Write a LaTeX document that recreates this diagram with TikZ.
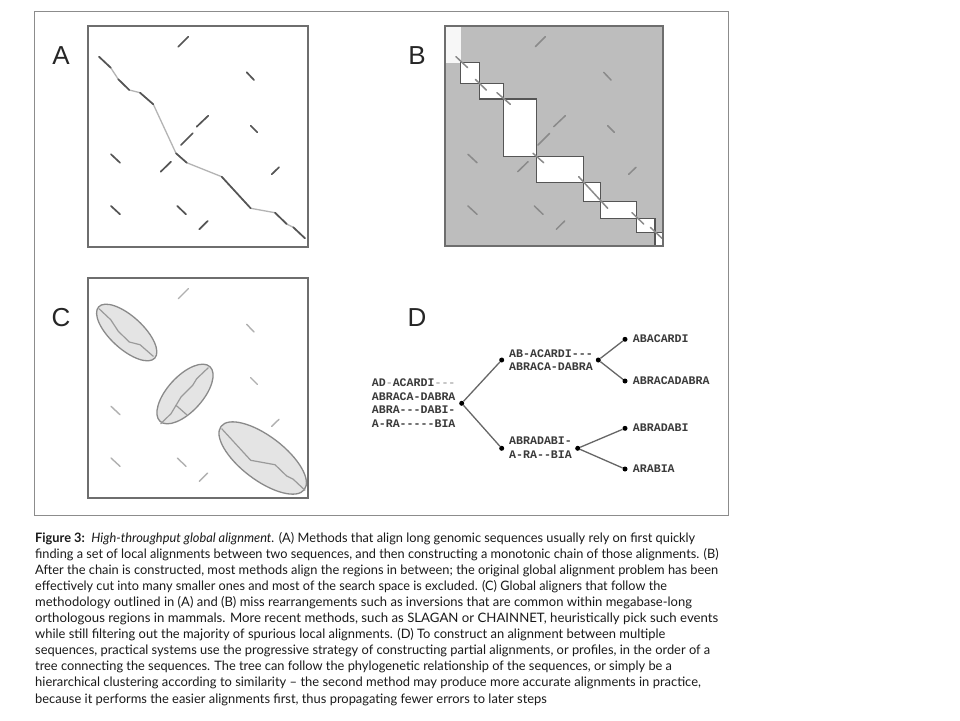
\documentclass[tikz,border=0pt]{standalone}
\usepackage{fontspec}
\setmainfont{Lato}
\setsansfont{Liberation Sans}
\setmonofont{Liberation Mono}
\usepackage{graphicx}
\definecolor{framec}{HTML}{8C8C8C}
\definecolor{boxc}{HTML}{6E6E6E}
\definecolor{segdark}{HTML}{555555}
\definecolor{seglight}{HTML}{B4B4B4}
\definecolor{bgray}{HTML}{BDBDBD}
\definecolor{bseg}{HTML}{8A8A8A}
\definecolor{cseg}{HTML}{B0B0B0}
\definecolor{cin}{HTML}{9A9A9A}
\definecolor{ellfill}{HTML}{E4E4E4}
\definecolor{elldraw}{HTML}{8A8A8A}
\definecolor{seqtext}{HTML}{3A3A3A}
\definecolor{faint}{HTML}{B0B0B0}
\definecolor{capc}{HTML}{1A1A1A}
\newcommand\FreeMain[1]{%
  \foreach \p/\q in {{178.3,46.7}/{188.3,36.7},{246.7,72.3}/{254,80},{250.7,125.7}/{257.3,132.3},{111,154.3}/{120,162.7},{271.7,174.3}/{279,167.3},{111,206}/{120,214.3},{177.3,206}/{186,214.3},{199.3,229.3}/{207.7,221}}{\draw[#1] (\p) -- (\q);}}
\newcommand\FreeInv[1]{%
  \foreach \p/\q in {{196.7,126.7}/{208.3,115.7},{181,145}/{192.7,133.3},{160.7,171.7}/{171,161.7}}{\draw[#1] (\p) -- (\q);}}
\newcommand\ChainDark[1]{%
  \foreach \p/\q in {{99,56.7}/{110.7,67.7},{118.3,79.3}/{129.3,90},{140,92.7}/{153.3,104.3},{176,153.3}/{186.7,162.7},{221.7,176.7}/{250.7,208.3},{275,212.7}/{286.7,224},{293.3,227.3}/{305,238.3}}{\draw[#1] (\p) -- (\q);}}
\newcommand\capl[4]{\node[capt] (#1) at (35,#2) {\resizebox{#3pt}{\height}{#4}};}
\tikzset{
  panelbox/.style={draw=boxc, line width=1.6pt},
  dseg/.style={draw=segdark, line width=1.7pt, line cap=round},
  lchain/.style={draw=seglight, line width=1.3pt, line join=round},
  bsegs/.style={draw=bseg, line width=1.5pt, line cap=round},
  csegs/.style={draw=cseg, line width=1.4pt, line cap=round},
  cinside/.style={draw=cin, line width=1.2pt, line join=round, line cap=round},
  ellip/.style={fill=ellfill, draw=elldraw, line width=1.3pt},
  wbox/.style={fill=white, draw=segdark, line width=1.2pt},
  plab/.style={font=\sffamily\fontsize{26}{30}\selectfont, text=black!85, inner sep=0pt},
  seq/.style={font=\ttfamily\bfseries\fontsize{11.6}{13}\selectfont, text=seqtext, anchor=west, inner sep=0pt, text height=6.5pt, text depth=0pt},
  dot/.style={circle, fill=black, inner sep=0pt, minimum size=5pt},
  edge/.style={draw=black!60, line width=1.3pt},
  capt/.style={anchor=base west, inner sep=0pt, text=capc, font=\fontsize{13}{15}\selectfont},
}
\begin{document}
\begin{tikzpicture}[x=1pt,y=-1pt]
\useasboundingbox (0,0) rectangle (960,720);
\fill[white] (0,0) rectangle (960,720);
% outer frame
\draw[framec, line width=1pt] (34,11) rectangle (728,515);
% labels
\node[plab] (labA) at (61,56) {A};
\node[plab] (labB) at (417,56) {B};
\node[plab] (labC) at (61,318) {C};
\node[plab] (labD) at (417,318) {D};
% ---------- Panel A
\fill[white] (88,26) rectangle (308,247);
\draw[lchain] (99,56.7) -- (110.7,67.7) -- (118.3,79.3) -- (129.3,90) -- (140,92.7) -- (153.3,104.3) -- (176,153.3) -- (186.7,162.7) -- (221.7,176.7) -- (250.7,208.3) -- (275,212.7) -- (286.7,224) -- (293.3,227.3) -- (305,238.3);
\ChainDark{dseg}
\FreeMain{dseg}
\FreeInv{dseg}
\draw[panelbox] (88,26) rectangle (308,247);
% ---------- Panel B
\fill[bgray] (445,26) rectangle (663,246);
\fill[white!97!black] (445,26) rectangle (460.7,62.7);
\draw[wbox] (460.7,62.7) rectangle (479.3,83.3);
\draw[wbox] (479.3,83.3) rectangle (503.3,99);
\draw[wbox] (503.3,99) rectangle (536.7,156.7);
\draw[wbox] (536.7,156.7) rectangle (583.3,182.3);
\draw[wbox] (583.3,182.3) rectangle (600.3,201.7);
\draw[wbox] (600.3,201.7) rectangle (636.7,218.3);
\draw[wbox] (636.7,218.3) rectangle (655,232.7);
\draw[wbox] (655,232.7) rectangle (663,246);
\begin{scope}[xshift=357pt]
\ChainDark{bsegs}
\FreeMain{bsegs}
\FreeInv{bsegs}
\end{scope}
\draw[panelbox] (445,26) rectangle (663,246);
% ---------- Panel C
\fill[white] (88,278) rectangle (308,498);
\draw[ellip, rotate around={-42.4:(126.7,332.5)}] (126.7,332.5) ellipse [x radius=38pt, y radius=16.3pt];
\draw[ellip, rotate around={47.7:(185,394)}] (185,394) ellipse [x radius=37pt, y radius=17.6pt];
\draw[ellip, rotate around={-37.2:(262.7,458)}] (262.7,458) ellipse [x radius=52.3pt, y radius=22pt];
\begin{scope}[yshift=-252pt]
\FreeMain{csegs}
\draw[cinside] (99,56.7) -- (110.7,67.7) -- (118.3,79.3) -- (129.3,90) -- (140,92.7) -- (153.3,104.3);
\draw[cinside] (160.7,171.7) -- (171,161.7) -- (181,145) -- (192.7,133.3) -- (196.7,126.7) -- (208.3,115.7);
\draw[cinside] (176,153.3) -- (186.7,162.7);
\draw[cinside] (221.7,176.7) -- (250.7,208.3) -- (275,212.7) -- (286.7,224) -- (293.3,227.3) -- (305,238.3);
\end{scope}
\draw[panelbox] (88,278) rectangle (308,498);
% ---------- Panel D
\node[dot] (root) at (461.7,403.3) {};
\node[dot] (up) at (501.7,360) {};
\node[dot] (upn) at (598.3,360) {};
\node[dot] (lo) at (501.7,448.3) {};
\node[dot] (lon) at (577.7,448.3) {};
\node[dot] (l1) at (625,339.3) {};
\node[dot] (l2) at (625,381) {};
\node[dot] (l3) at (625,428.3) {};
\node[dot] (l4) at (625,469) {};
\draw[edge] (root) -- (up);
\draw[edge] (root) -- (lo);
\draw[edge] (upn) -- (l1);
\draw[edge] (upn) -- (l2);
\draw[edge] (lon) -- (l3);
\draw[edge] (lon) -- (l4);
\node[seq] (r1) at (371.7,383.3) {AD{\color{faint}-}ACARDI{\color{faint}---}};
\node[seq] (r2) at (371.7,397.3) {ABRACA-DABRA};
\node[seq] (r3) at (371.7,410.7) {ABRA---DABI-};
\node[seq] (r4) at (371.7,424) {A-RA-----BIA};
\node[seq] (u1) at (509,354.3) {AB-ACARDI---};
\node[seq] (u2) at (509,367.7) {ABRACA-DABRA};
\node[seq] (d1) at (509,441.7) {ABRADABI-};
\node[seq] (d2) at (509,455) {A-RA--BIA};
\node[seq] (t1) at (632.7,339.3) {ABACARDI};
\node[seq] (t2) at (632.7,381) {ABRACADABRA};
\node[seq] (t3) at (632.7,428.3) {ABRADABI};
\node[seq] (t4) at (632.7,469) {ARABIA};
% ---------- Caption
\capl{c1}{542}{660}{\textbf{Figure 3:}\ \ \textit{High-throughput global alignment.} (A) Methods that align long genomic sequences usually rely on first quickly}
\capl{c2}{558.1}{683.3}{finding a set of local alignments between two sequences, and then constructing a monotonic chain of those alignments. (B)}
\capl{c3}{574.2}{683}{After the chain is constructed, most methods align the regions in between; the original global alignment problem has been}
\capl{c4}{590.3}{631.7}{effectively cut into many smaller ones and most of the search space is excluded. (C) Global aligners that follow the}
\capl{c5}{606.4}{656.7}{methodology outlined in (A) and (B) miss rearrangements such as inversions that are common within megabase-long}
\capl{c6}{622.5}{683}{orthologous regions in mammals. More recent methods, such as SLAGAN or CHAINNET, heuristically pick such events}
\capl{c7}{638.6}{630}{while still filtering out the majority of spurious local alignments. (D) To construct an alignment between multiple}
\capl{c8}{654.7}{675}{sequences, practical systems use the progressive strategy of constructing partial alignments, or profiles, in the order of a}
\capl{c9}{670.8}{636.7}{tree connecting the sequences. The tree can follow the phylogenetic relationship of the sequences, or simply be a}
\capl{c10}{686.9}{665.7}{hierarchical clustering according to similarity – the second method may produce more accurate alignments in practice,}
\capl{c11}{703}{511.7}{because it performs the easier alignments first, thus propagating fewer errors to later steps}
\end{tikzpicture}
\end{document}
